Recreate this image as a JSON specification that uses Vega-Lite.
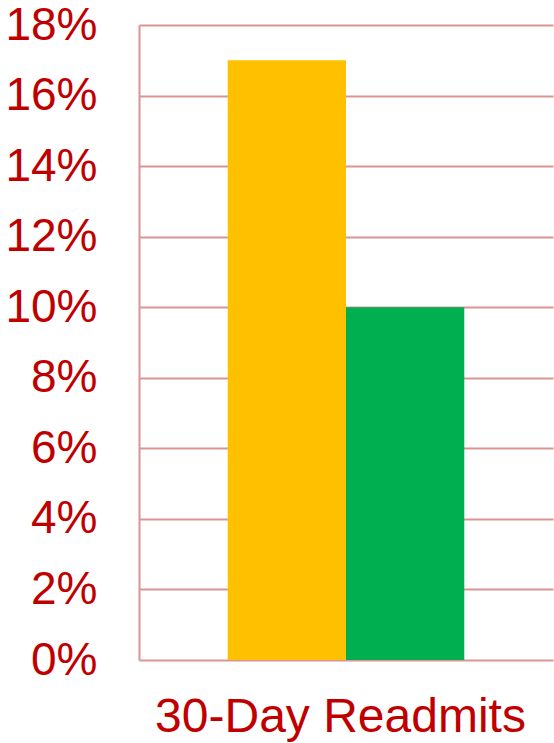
{
  "$schema": "https://vega.github.io/schema/vega-lite/v6.json",
  "autosize": "none",
  "width": 414,
  "height": 635,
  "padding": {"left": 139, "top": 25, "right": 1, "bottom": 83},
  "background": "white",
  "config": {"view": {"stroke": null}, "font": "Liberation Sans"},
  "data": {"values": [
    {"series": "A", "category": "30-Day Readmits", "value": 0.17},
    {"series": "B", "category": "30-Day Readmits", "value": 0.10}
  ]},
  "mark": {"type": "bar"},
  "encoding": {
    "x": {"field": "series", "type": "nominal",
      "scale": {"paddingInner": 0, "paddingOuter": 0.75},
      "axis": {"title": "30-Day Readmits", "labels": false, "ticks": false, "domain": false,
        "titleFontSize": 48, "titleFontWeight": "normal", "titleColor": "#C00000",
        "titlePadding": 33, "titleFont": "Liberation Sans", "titleX": 201}},
    "y": {"field": "value", "type": "quantitative",
      "scale": {"domain": [0, 0.18], "nice": false},
      "axis": {"title": null, "format": ".0%", "values": [0, 0.02, 0.04, 0.06, 0.08, 0.1, 0.12, 0.14, 0.16, 0.18],
        "labelFontSize": 46, "labelColor": "#C00000", "labelFont": "Liberation Sans",
        "labelPadding": 42, "ticks": false, "domainColor": "#D99594", "domainWidth": 2,
        "gridColor": "#D99594", "gridWidth": 2, "gridOpacity": 1}},
    "color": {"field": "series", "type": "nominal",
      "scale": {"domain": ["A", "B"], "range": ["#FFC000", "#00B050"]}, "legend": null}
  }
}
